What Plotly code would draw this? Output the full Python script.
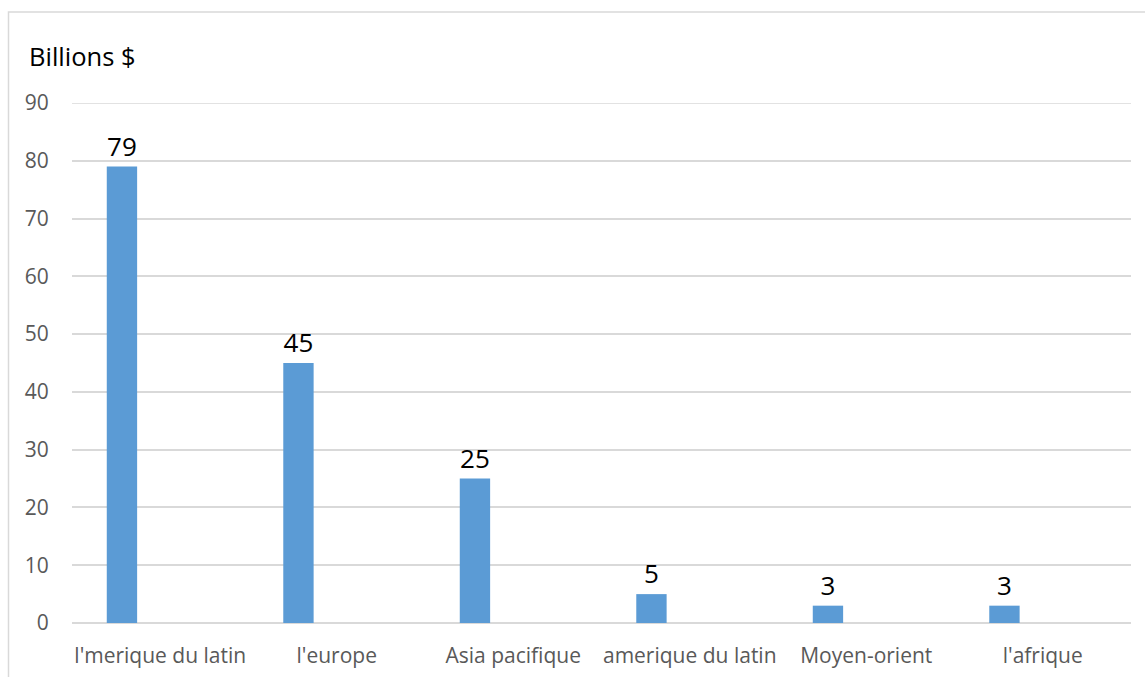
import plotly.graph_objects as go

categories = ["l'merique du latin", "l'europe", "Asia pacifique", "amerique du latin", "Moyen-orient", "l'afrique"]
values = [79, 45, 25, 5, 3, 3]
y_ticks = [0, 10, 20, 30, 40, 50, 60, 70, 80, 90]

FONT = "Open Sans"
GRID = "#D9D9D9"
LABEL = "#595959"

fig = go.Figure()
fig.add_trace(go.Bar(
    x=categories, y=values,
    width=0.172, offset=-0.303,
    marker=dict(color="#5B9BD5", line=dict(width=0)),
    text=[str(v) for v in values], textposition="outside",
    textfont=dict(family=FONT, size=26, color="#000000"),
    cliponaxis=False, hoverinfo="skip",
))

fig.update_layout(
    width=1145, height=677,
    margin=dict(l=72, r=14, t=103, b=54, autoexpand=False),
    paper_bgcolor="white", plot_bgcolor="white",
    showlegend=False,
    xaxis=dict(
        type="category", showgrid=False, showline=False, zeroline=False, automargin=False,
        ticks="outside", ticklen=14, tickcolor="rgba(0,0,0,0)",
        tickfont=dict(family=FONT, size=21, color=LABEL),
    ),
    yaxis=dict(
        range=[0, 90], tickvals=y_ticks, showgrid=True, gridcolor=GRID, gridwidth=1.5,
        zeroline=True, zerolinecolor=GRID, zerolinewidth=1.5, showline=False, automargin=False,
        ticks="outside", ticklen=18, tickcolor="rgba(0,0,0,0)",
        tickfont=dict(family=FONT, size=21, color=LABEL),
    ),
    shapes=[
        dict(type="rect", xref="paper", yref="paper",
             x0=(8.5 - 72) / 1059, x1=1.03, y0=-0.3, y1=(623 - 12) / 520,
             line=dict(color=GRID, width=1.5), fillcolor="rgba(0,0,0,0)", layer="below"),
        dict(type="line", xref="paper", yref="y", x0=0, x1=1, y0=y_ticks[-1], y1=y_ticks[-1],
             line=dict(color=GRID, width=1.5), layer="below"),
    ],
    annotations=[dict(text="Billions $", xref="paper", yref="paper",
                      x=(26.7 - 72) / 1059, y=(623 - 56) / 520,
                      xanchor="left", yanchor="middle", showarrow=False,
                      font=dict(family=FONT, size=25.5, color="#000000"))],
)

fig.write_html("out.html")
